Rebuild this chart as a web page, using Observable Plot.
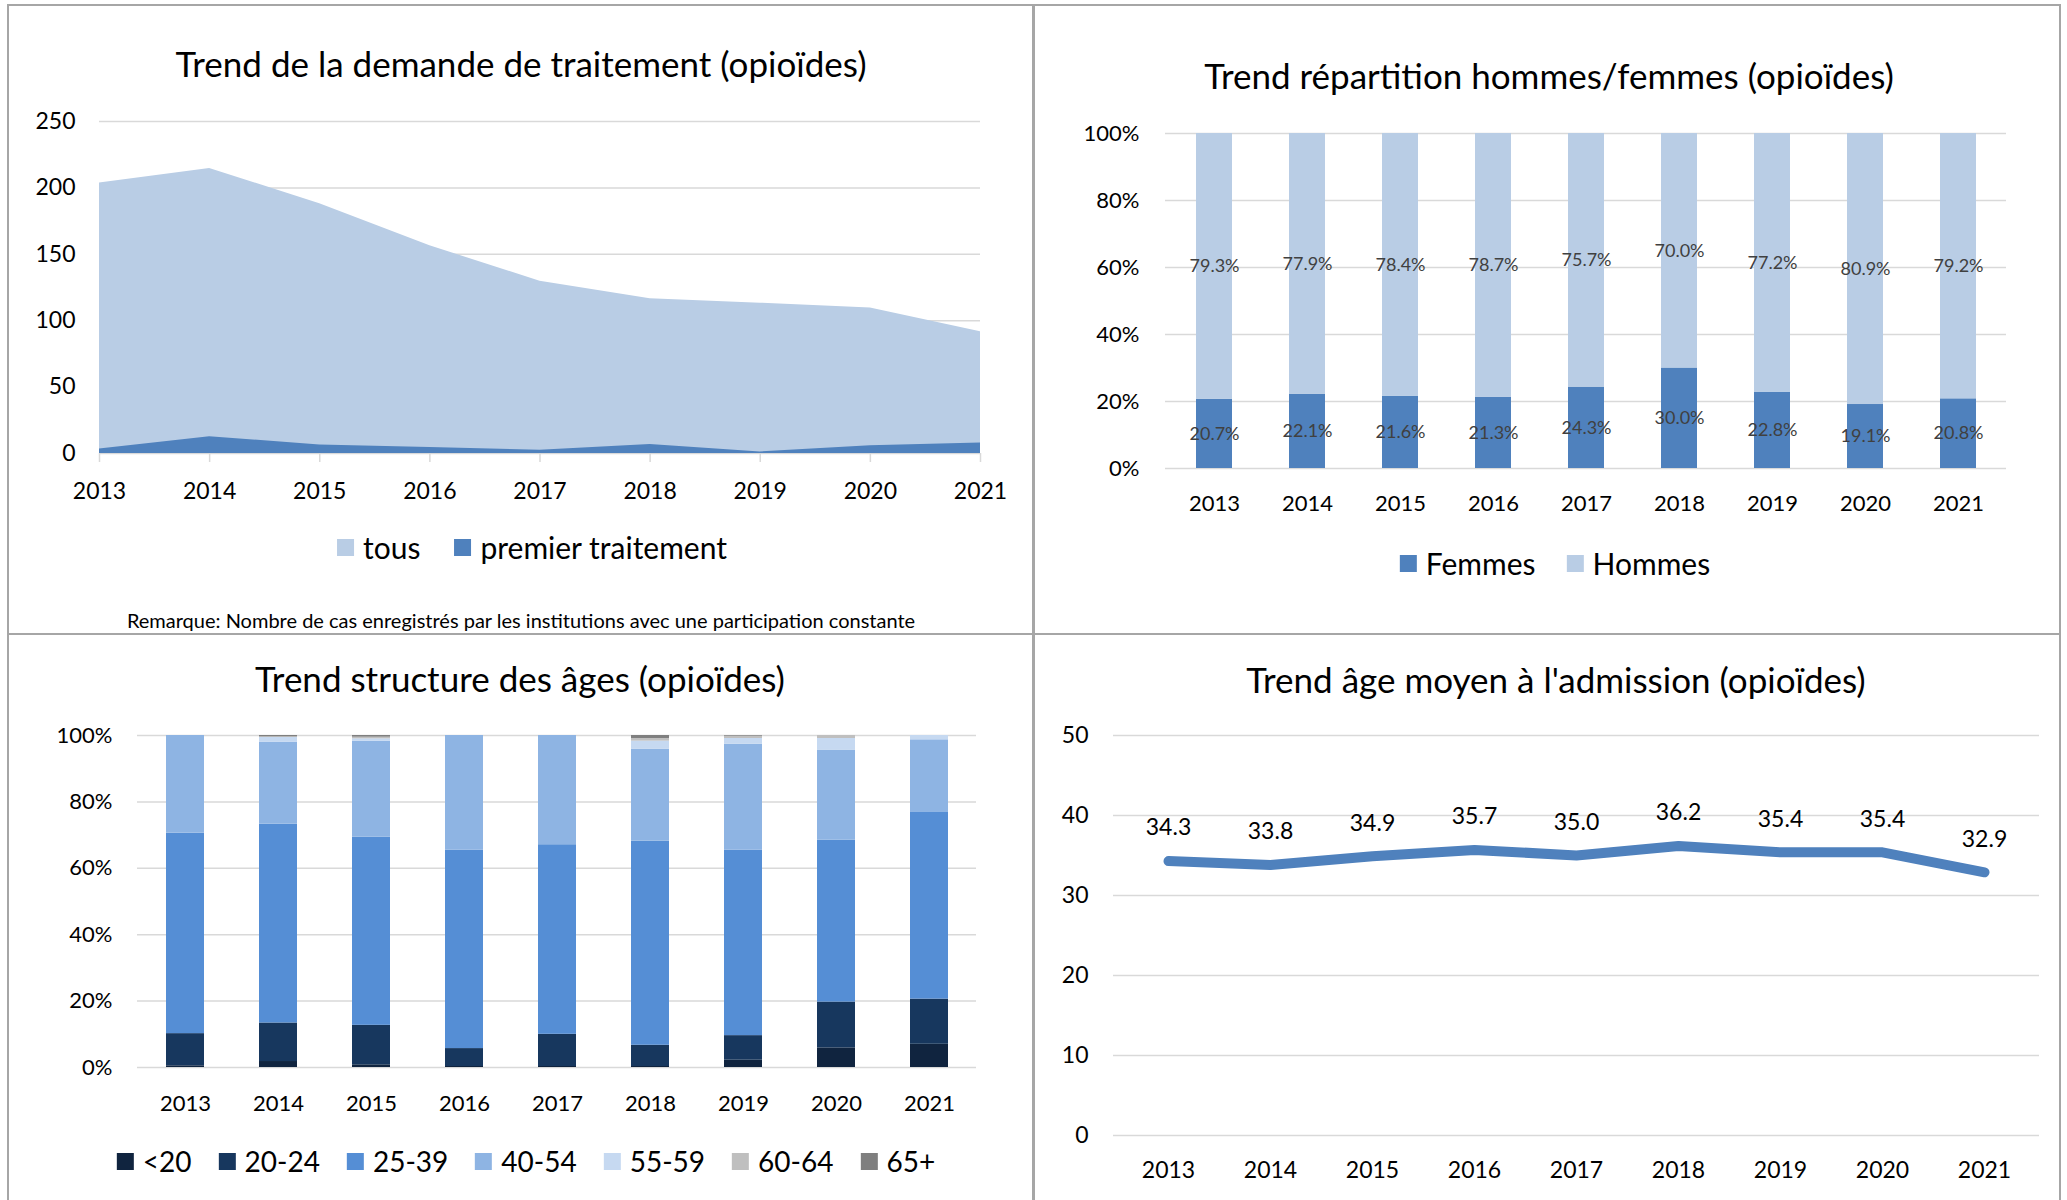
<!DOCTYPE html>
<html><head><meta charset="utf-8">
<script src="https://cdn.jsdelivr.net/npm/d3@7"></script>
<script src="https://cdn.jsdelivr.net/npm/@observablehq/plot@0.6"></script>
<style>
body{margin:0;background:#fff;font-family:Lato,sans-serif;}
#root{position:relative;width:2067px;height:1200px;overflow:hidden;background:#fff;}
.panel{position:absolute;border:2px solid #a6a6a6;box-sizing:border-box;}
.chart{position:absolute;}
.title{position:absolute;transform:translate(-50%,-50%);white-space:nowrap;font-size:35px;color:#000;line-height:1.2;}
.note{position:absolute;transform:translate(-50%,-50%);white-space:nowrap;font-size:20px;color:#000;}
.legend{position:absolute;transform:translate(-50%,-50%);display:flex;align-items:center;white-space:nowrap;font-size:30px;color:#000;}
.legend .item{display:flex;align-items:center;}
.legend .sw{display:inline-block;width:17px;height:17px;margin-right:9px;}
</style></head>
<body><div id="root"></div>
<script>
// ---------- DATA ----------
const years = [2013, 2014, 2015, 2016, 2017, 2018, 2019, 2020, 2021];

// Trend de la demande de traitement
const tous = [203.7, 214.7, 188.0, 156.4, 129.8, 116.6, 113.2, 109.5, 91.7];
const premierTraitement = [3.4, 12.6, 6.4, 4.6, 2.5, 6.7, 1.2, 5.8, 8.0];
const demandeTicks = [0, 50, 100, 150, 200, 250];

// Répartition hommes/femmes (%)
const femmes = [20.7, 22.1, 21.6, 21.3, 24.3, 30.0, 22.8, 19.1, 20.8];
const hommes = [79.3, 77.9, 78.4, 78.7, 75.7, 70.0, 77.2, 80.9, 79.2];
const pctTicks = [0, 20, 40, 60, 80, 100];

// Structure des âges (%)
const ageGroups = ["<20", "20-24", "25-39", "40-54", "55-59", "60-64", "65+"];
const age_lt20  = [0.5, 1.8, 0.8, 0.3, 0.3, 0.3, 2.2, 5.9, 7.0];
const age_20_24 = [9.7, 11.6, 11.9, 5.4, 9.7, 6.4, 7.4, 13.8, 13.6];
const age_25_39 = [60.4, 59.9, 56.7, 59.8, 57.1, 61.5, 55.9, 48.8, 56.4];
const age_40_54 = [29.4, 24.7, 28.9, 34.5, 32.9, 27.7, 31.9, 27.0, 21.7];
const age_55_59 = [0.0, 1.4, 0.7, 0.0, 0.0, 2.4, 1.7, 3.6, 1.3];
const age_60_64 = [0.0, 0.2, 0.5, 0.0, 0.0, 0.8, 0.7, 0.9, 0.0];
const age_65p   = [0.0, 0.4, 0.5, 0.0, 0.0, 0.9, 0.2, 0.0, 0.0];

// Âge moyen à l'admission
const ageMoyen = [34.3, 33.8, 34.9, 35.7, 35.0, 36.2, 35.4, 35.4, 32.9];
const ageTicks = [0, 10, 20, 30, 40, 50];

// ---------- STYLE ----------
const C = {
  light: "#B9CDE5", dark: "#4F81BD", grid: "#d9d9d9",
  ages: ["#10243F", "#17375E", "#558ED5", "#8EB4E3", "#C6D9F1", "#BFBFBF", "#7F7F7F"]
};
const baseStyle = {fontFamily: "Lato, sans-serif", background: "transparent", overflow: "visible", color: "#000"};
const root = document.getElementById("root");

function place(el, left, top) { el.classList.add("chart"); el.style.left = left + "px"; el.style.top = top + "px"; root.appendChild(el); }
function div(cls, html, x, y) { const d = document.createElement("div"); d.className = cls; d.innerHTML = html; d.style.left = x + "px"; d.style.top = y + "px"; root.appendChild(d); return d; }
function legend(items, x, y, gap, fs) {
  const d = div("legend", "", x, y);
  d.style.gap = gap + "px"; if (fs) d.style.fontSize = fs + "px";
  items.forEach(([label, color]) => {
    const it = document.createElement("div"); it.className = "item";
    it.innerHTML = `<span class="sw" style="background:${color}"></span><span>${label}</span>`;
    d.appendChild(it);
  });
}

// panels
[[7, 4, 1028, 631], [1032, 4, 1029, 631], [7, 633, 1028, 600], [1032, 633, 1029, 600]].forEach(([l, t, w, h]) => {
  const p = document.createElement("div"); p.className = "panel";
  Object.assign(p.style, {left: l + "px", top: t + "px", width: w + "px", height: h + "px"});
  root.appendChild(p);
});

// ---------- Chart 1: area ----------
const tousData = years.map((y, i) => ({year: y, value: tous[i]}));
const premData = years.map((y, i) => ({year: y, value: premierTraitement[i]}));
place(Plot.plot({
  width: 1033, height: 634, marginLeft: 99, marginRight: 53, marginTop: 121, marginBottom: 181,
  style: baseStyle,
  x: {type: "linear", domain: [2013, 2021]},
  y: {domain: [0, 250]},
  marks: [
    Plot.ruleY(demandeTicks, {stroke: C.grid, strokeWidth: 1.5}),
    Plot.areaY(tousData, {x: "year", y: "value", fill: C.light}),
    Plot.areaY(premData, {x: "year", y: "value", fill: C.dark}),
    Plot.axisX({ticks: years, tickFormat: d => String(d), tickSize: 9, tickPadding: 20, stroke: C.grid, strokeWidth: 1.5, fontSize: 23, label: null}),
    Plot.axisY({ticks: demandeTicks, tickSize: 0, tickPadding: 24, fontSize: 23, label: null})
  ]
}), 0, 0);
div("title", "Trend de la demande de traitement (opioïdes)", 521, 63);
legend([["tous", C.light], ["premier traitement", C.dark]], 532, 547, 34);
div("note", "Remarque: Nombre de cas enregistrés par les institutions avec une participation constante", 521, 620);

// ---------- Chart 2: sex ----------
const sexSeries = [["Femmes", femmes], ["Hommes", hommes]];
const sexData = sexSeries.flatMap(([s, arr]) => years.map((y, i) => ({year: y, sex: s, value: arr[i]})));
const sexLabels = years.flatMap((y, i) => [
  {year: y, mid: femmes[i] / 2, text: femmes[i].toFixed(1) + "%"},
  {year: y, mid: femmes[i] + hommes[i] / 2, text: hommes[i].toFixed(1) + "%"}
]);
place(Plot.plot({
  width: 1032, height: 634, marginLeft: 130, marginRight: 61, marginTop: 133, marginBottom: 166,
  style: baseStyle,
  x: {type: "band", domain: years, paddingInner: 0.615, paddingOuter: 0.3075},
  y: {domain: [0, 100]},
  color: {domain: ["Femmes", "Hommes"], range: [C.dark, C.light]},
  marks: [
    Plot.ruleY(pctTicks, {stroke: C.grid, strokeWidth: 1.5}),
    Plot.barY(sexData, {x: "year", y: "value", fill: "sex"}),
    Plot.text(sexLabels, {x: "year", y: "mid", text: "text", fontSize: 18, fill: "#404040"}),
    Plot.axisX({tickFormat: d => String(d), tickSize: 0, tickPadding: 27, fontSize: 22, label: null}),
    Plot.axisY({ticks: pctTicks, tickFormat: d => d + "%", tickSize: 0, tickPadding: 26, fontSize: 22, label: null})
  ]
}), 1035, 0);
div("title", "Trend répartition hommes/femmes (opioïdes)", 1549, 75);
legend([["Femmes", C.dark], ["Hommes", C.light]], 1555, 563, 31);

// ---------- Chart 3: age structure ----------
const ageArrays = [age_lt20, age_20_24, age_25_39, age_40_54, age_55_59, age_60_64, age_65p];
const ageData = ageGroups.flatMap((g, k) => years.map((y, i) => ({year: y, group: g, value: ageArrays[k][i]})));
place(Plot.plot({
  width: 1033, height: 566, marginLeft: 137, marginRight: 57, marginTop: 101, marginBottom: 133,
  style: baseStyle,
  x: {type: "band", domain: years, paddingInner: 0.593, paddingOuter: 0.2965},
  y: {domain: [0, 100]},
  color: {domain: ageGroups, range: C.ages},
  marks: [
    Plot.ruleY(pctTicks, {stroke: C.grid, strokeWidth: 1.5}),
    Plot.barY(ageData, {x: "year", y: "value", fill: "group", order: ageGroups}),
    Plot.axisX({tickFormat: d => String(d), tickSize: 0, tickPadding: 28, fontSize: 22, label: null}),
    Plot.axisY({ticks: pctTicks, tickFormat: d => d + "%", tickSize: 0, tickPadding: 25, fontSize: 22, label: null})
  ]
}), 0, 634);
div("title", "Trend structure des âges (opioïdes)", 520, 678);
legend(ageGroups.map((g, k) => [g, C.ages[k]]), 526, 1161, 27, 28);

// ---------- Chart 4: mean age ----------
const moyData = years.map((y, i) => ({year: y, value: ageMoyen[i]}));
place(Plot.plot({
  width: 1032, height: 566, marginLeft: 78, marginRight: 28, marginTop: 101, marginBottom: 65,
  style: baseStyle,
  x: {type: "point", domain: years, padding: 0.5},
  y: {domain: [0, 50]},
  marks: [
    Plot.ruleY(ageTicks, {stroke: C.grid, strokeWidth: 1.5}),
    Plot.lineY(moyData, {x: "year", y: "value", stroke: C.dark, strokeWidth: 10, strokeLinecap: "round", strokeLinejoin: "round"}),
    Plot.text(moyData, {x: "year", y: "value", text: d => d.value.toFixed(1), dy: -33, fontSize: 23, fill: "#000"}),
    Plot.axisX({tickFormat: d => String(d), tickSize: 0, tickPadding: 26, fontSize: 23, label: null}),
    Plot.axisY({ticks: ageTicks, tickSize: 0, tickPadding: 25, fontSize: 23, label: null})
  ]
}), 1035, 634);
div("title", "Trend âge moyen à l'admission (opioïdes)", 1556, 679);
</script>
</body></html>
